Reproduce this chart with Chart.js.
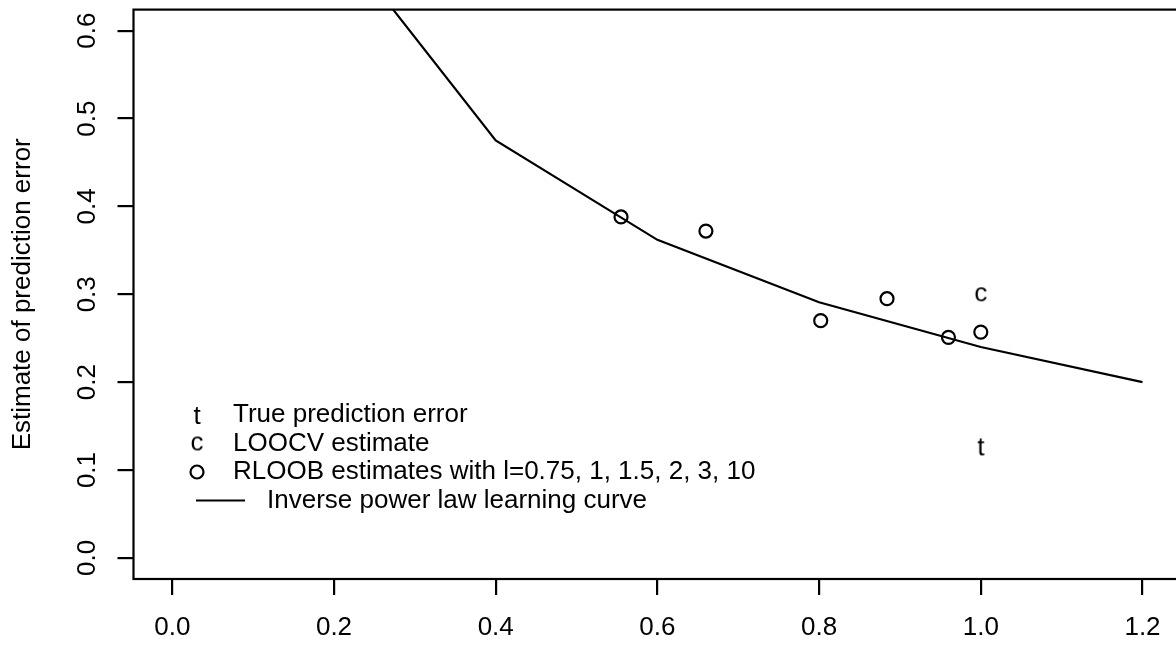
<!DOCTYPE html>
<html>
<head>
<meta charset="utf-8">
<script src="https://cdn.jsdelivr.net/npm/chart.js@4.4.1/dist/chart.umd.min.js"></script>
<style>
  html, body { margin: 0; padding: 0; background: #fff; overflow: hidden; }
  #wrap { width: 1176px; height: 647px; overflow: hidden; }
</style>
</head>
<body>
<div id="wrap"><canvas id="chart" width="1190" height="647"></canvas></div>
<script>
// values
const curveX = [0.2, 0.4, 0.6, 0.8, 1.0, 1.2];
const curveY = [0.71, 0.475, 0.362, 0.291, 0.240, 0.200];
const rloobX = [0.555, 0.660, 0.802, 0.884, 0.960, 1.0];
const rloobY = [0.388, 0.372, 0.270, 0.295, 0.251, 0.257];
const loocvX = [1.0];
const loocvY = [0.300];
const trueX = [1.0];
const trueY = [0.127];
const xTicks = [0, 0.2, 0.4, 0.6, 0.8, 1.0, 1.2];
const yTicks = [0, 0.1, 0.2, 0.3, 0.4, 0.5, 0.6];
const legendLabels = ['True prediction error', 'LOOCV estimate', 'RLOOB estimates with l=0.75, 1, 1.5, 2, 3, 10', 'Inverse power law learning curve'];

const FONT = '"Liberation Sans", Arial, sans-serif';
const FS = 26;
const LW = 2.2;

// letter used as a point marker (pch = "t", "c")
function letterMark(ch) {
  const c = document.createElement('canvas');
  c.width = 30; c.height = 30;
  const g = c.getContext('2d');
  g.font = FS + 'px ' + FONT;
  g.fillStyle = '#000';
  g.textAlign = 'center';
  g.textBaseline = 'alphabetic';
  const m = g.measureText(ch);
  g.fillText(ch, 15, 15 + (m.actualBoundingBoxAscent - m.actualBoundingBoxDescent) / 2);
  return c;
}
const tMark = letterMark('t');
const cMark = letterMark('c');

const pts = (xs, ys) => xs.map((x, i) => ({ x: x, y: ys[i] }));

const rPlot = {
  id: 'rPlot',
  afterDraw(chart) {
    const ctx = chart.ctx;
    const a = chart.chartArea;
    const ys = chart.scales.y;
    ctx.save();
    // box
    ctx.strokeStyle = '#000';
    ctx.lineWidth = LW;
    ctx.strokeRect(a.left, a.top, a.right - a.left, a.bottom - a.top);
    // rotated y tick labels
    ctx.fillStyle = '#000';
    ctx.font = FS + 'px ' + FONT;
    ctx.textAlign = 'center';
    ctx.textBaseline = 'middle';
    ys.ticks.forEach(t => {
      const py = ys.getPixelForValue(t.value);
      ctx.save();
      ctx.translate(86.7, py);
      ctx.rotate(-Math.PI / 2);
      ctx.fillText(t.value.toFixed(1), 0, 1);
      ctx.restore();
    });
    // legend
    const rows = [415, 443.5, 472, 500.5];
    ctx.textAlign = 'left';
    ctx.drawImage(tMark, 197 - 15, rows[0] - 15);
    ctx.drawImage(cMark, 197 - 15, rows[1] - 15);
    ctx.beginPath();
    ctx.arc(197, rows[2], 6.5, 0, Math.PI * 2);
    ctx.stroke();
    ctx.beginPath();
    ctx.moveTo(196, rows[3]);
    ctx.lineTo(245, rows[3]);
    ctx.stroke();
    ctx.fillText(legendLabels[0], 233, rows[0]);
    ctx.fillText(legendLabels[1], 233, rows[1]);
    ctx.fillText(legendLabels[2], 233, rows[2]);
    ctx.fillText(legendLabels[3], 267, rows[3]);
    ctx.restore();
  }
};

new Chart(document.getElementById('chart'), {
  type: 'scatter',
  data: {
    datasets: [
      {
        label: legendLabels[3],
        data: pts(curveX, curveY),
        showLine: true,
        borderColor: '#000',
        borderWidth: LW,
        pointRadius: 0,
        tension: 0,
        fill: false
      },
      {
        label: legendLabels[2],
        data: pts(rloobX, rloobY),
        pointStyle: 'circle',
        pointRadius: 6.5,
        borderWidth: LW,
        borderColor: '#000',
        backgroundColor: 'rgba(0,0,0,0)'
      },
      {
        label: legendLabels[1],
        data: pts(loocvX, loocvY),
        pointStyle: cMark
      },
      {
        label: legendLabels[0],
        data: pts(trueX, trueY),
        pointStyle: tMark
      }
    ]
  },
  options: {
    responsive: false,
    animation: false,
    devicePixelRatio: 1,
    layout: { padding: { left: 0, top: 9.6, right: 6.1, bottom: 0 } },
    plugins: { legend: { display: false }, tooltip: { enabled: false } },
    scales: {
      x: {
        type: 'linear',
        min: -0.048,
        max: 1.248,
        afterBuildTicks: s => { s.ticks = xTicks.map(v => ({ value: v })); },
        afterFit: s => { s.height = 68; },
        border: { display: false },
        grid: { drawOnChartArea: false, drawTicks: true, tickLength: 16, color: '#000', lineWidth: LW },
        ticks: {
          color: '#000',
          font: { family: FONT, size: FS },
          padding: 17,
          maxRotation: 0,
          autoSkip: false,
          callback: v => Number(v).toFixed(1)
        }
      },
      y: {
        type: 'linear',
        min: -0.024,
        max: 0.624,
        afterBuildTicks: s => { s.ticks = yTicks.map(v => ({ value: v })); },
        afterFit: s => { s.width = 133.5; },
        border: { display: false },
        grid: { drawOnChartArea: false, drawTicks: true, tickLength: 16, color: '#000', lineWidth: LW },
        ticks: { display: false },
        title: {
          display: true,
          text: 'Estimate of prediction error',
          color: '#000',
          font: { family: FONT, size: FS },
          padding: { top: 7, bottom: 0 }
        }
      }
    }
  },
  plugins: [rPlot]
});
</script>
</body>
</html>
